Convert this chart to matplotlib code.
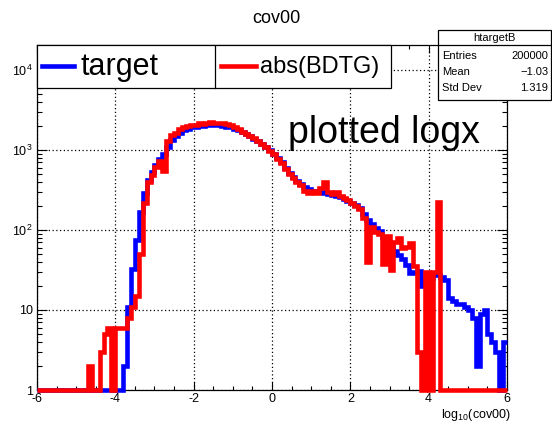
import numpy as np
import matplotlib
matplotlib.use("Agg")
import matplotlib.pyplot as plt
from matplotlib.patches import Rectangle
from matplotlib.ticker import FixedLocator, MultipleLocator, LogLocator, NullFormatter

plt.rcParams['font.family'] = ['Liberation Sans', 'DejaVu Sans']
plt.rcParams['mathtext.fontset'] = 'custom'
plt.rcParams['mathtext.rm'] = 'Liberation Sans'
plt.rcParams['axes.unicode_minus'] = False

# histogram range / binning of log10(cov00)
x_min, x_max = -6, 6

# bin contents, 0.1 wide bins from -6 to 6 (one row = 10 bins)
target_counts = [
    0, 0, 0, 0, 0, 0, 0, 0, 0, 0,                                # -6.0 .. -5.1
    0, 0, 0, 0, 0, 0, 0, 0, 0, 0,                                # -5.0 .. -4.1
    0, 1, 2, 11, 33, 75, 170, 290, 420, 530,                     # -4.0 .. -3.1
    640, 760, 900, 1100, 1330, 1500, 1650, 1760, 1850, 1920,     # -3.0 .. -2.1
    1960, 1990, 2010, 2030, 2040, 2040, 2030, 2000, 1960, 1910,  # -2.0 .. -1.1
    1850, 1770, 1680, 1580, 1480, 1380, 1280, 1180, 1080, 990,   # -1.0 .. -0.1
    900, 800, 700, 600, 520, 460, 410, 375, 345, 325,            #  0.0 ..  0.9
    310, 300, 295, 290, 283, 276, 268, 258, 245, 232,            #  1.0 ..  1.9
    218, 205, 190, 160, 135, 120, 105, 98, 82, 70,               #  2.0 ..  2.9
    62, 55, 48, 44, 36, 29, 30, 31, 20, 23,                      #  3.0 ..  3.9
    25, 28, 27, 26, 24, 14, 13, 12, 12, 11,                      #  4.0 ..  4.9
    10, 8, 2, 9, 10, 5, 4, 3, 0, 4,                              #  5.0 ..  5.9
]

bdtg_counts = [
    0, 0, 0, 0, 0, 0, 0, 0, 0, 0,
    0, 0, 0, 2, 0, 0, 3, 5, 6, 0,
    6, 6, 6, 8, 11, 15, 50, 220, 400, 480,
    620, 720, 540, 1300, 1550, 1650, 1850, 1950, 2000, 2050,
    2080, 2150, 2120, 2200, 2250, 2180, 2200, 2150, 2100, 2050,
    1950, 1820, 1700, 1600, 1500, 1400, 1300, 1180, 1080, 980,
    880, 780, 680, 580, 500, 440, 400, 360, 310, 290,
    310, 290, 330, 400, 300, 285, 300, 265, 250, 235,
    220, 200, 185, 140, 40, 110, 95, 90, 38, 85,
    32, 70, 80, 60, 62, 68, 35, 3, 0, 30,
    0, 30, 225, 0, 0, 0, 0, 0, 0, 0,
    0, 0, 0, 0, 0, 0, 0, 0, 0, 0,
]

series_labels = ['target', 'abs(BDTG)']
x_ticks = [-6, -4, -2, 0, 2, 4, 6]
y_ticks = [1, 10, 100, 1000, 10000]
y_tick_labels = ['1', '10', r'$\mathregular{10^{2}}$', r'$\mathregular{10^{3}}$', r'$\mathregular{10^{4}}$']
y_min, y_max = 1, 2.05e4

stats_title = 'htargetB'
stats_names = ['Entries', 'Mean', 'Std Dev']
stats_values = ['200000', '\u22121.03', '1.319']

fig = plt.figure(figsize=(5.52, 4.22), dpi=100)
ax = fig.add_axes([0.067, 0.0758, 0.8515, 0.8176])

edges = np.linspace(x_min, x_max, len(target_counts) + 1)
ax.stairs(np.clip(target_counts, y_min, None), edges, baseline=None,
          color='#0000ff', lw=3.3, clip_on=False, zorder=3)
ax.stairs(np.clip(bdtg_counts, y_min, None), edges, baseline=None,
          color='#ff0000', lw=3.3, clip_on=False, zorder=4)

ax.set_yscale('log')
ax.set_xlim(x_min, x_max)
ax.set_ylim(y_min, y_max)

ax.xaxis.set_major_locator(FixedLocator(x_ticks))
ax.xaxis.set_minor_locator(MultipleLocator(0.5))
ax.set_xticklabels([str(t) for t in x_ticks])
ax.yaxis.set_major_locator(FixedLocator(y_ticks))
ax.set_yticklabels(y_tick_labels)
ax.yaxis.set_minor_locator(LogLocator(base=10, subs=np.arange(2, 10)))
ax.yaxis.set_minor_formatter(NullFormatter())

ax.tick_params(which='both', direction='in', top=True, right=True,
               width=0.8, labelsize=9, pad=3)
ax.tick_params(axis='x', which='major', length=6, pad=2)
ax.tick_params(axis='x', which='minor', length=3)
ax.tick_params(axis='y', which='major', length=7)
ax.tick_params(axis='y', which='minor', length=3.5)
for s in ax.spines.values():
    s.set_linewidth(0.9)

ax.grid(True, which='major', color='black', linestyle=(0, (1, 2)), lw=0.9)
ax.set_axisbelow(True)

fig.text(0.5, 0.957, 'cov00', ha='center', va='center', fontsize=13)
fig.text(0.926, 0.016, r'log$_{10}$(cov00)', ha='right', va='center', fontsize=9)

# legend box at the top of the frame
ax.add_patch(Rectangle((0, 0.875), 0.7526, 0.125, transform=ax.transAxes,
                       facecolor='white', edgecolor='black', lw=0.9, zorder=6, clip_on=False))
ax.plot([0.379, 0.379], [0.875, 1.0], transform=ax.transAxes, color='black', lw=0.9, zorder=7)
ax.plot([0.011, 0.079], [0.939, 0.939], transform=ax.transAxes, color='#0000ff', lw=3.3, zorder=7)
ax.text(0.092, 0.936, series_labels[0], transform=ax.transAxes, ha='left', va='center',
        fontsize=22, zorder=7)
ax.plot([0.391, 0.466], [0.939, 0.939], transform=ax.transAxes, color='#ff0000', lw=3.3, zorder=7)
ax.text(0.474, 0.936, series_labels[1], transform=ax.transAxes, ha='left', va='center',
        fontsize=17, zorder=7)

ax.text(0.534, 0.745, 'plotted logx', transform=ax.transAxes, ha='left', va='center',
        fontsize=27, zorder=7)

# stats box
bx0, bx1, by0, by1 = 0.7935, 0.999, 0.763, 0.929
fig.add_artist(Rectangle((bx0, by0), bx1 - bx0, by1 - by0, transform=fig.transFigure,
                         facecolor='white', edgecolor='black', lw=0.9, zorder=8))
fig.add_artist(plt.Line2D([bx0, bx1], [0.8934, 0.8934], transform=fig.transFigure,
                          color='black', lw=0.9, zorder=9))
fig.text((bx0 + bx1) / 2, 0.911, stats_title, ha='center', va='center', fontsize=8, zorder=9)
row_y = [0.867, 0.829, 0.791]
for name, val, yy in zip(stats_names, stats_values, row_y):
    fig.text(bx0 + 0.008, yy, name, ha='left', va='center', fontsize=8, zorder=9)
    fig.text(bx1 - 0.006, yy, val, ha='right', va='center', fontsize=8, zorder=9)

fig.savefig('out.png', dpi=100)
